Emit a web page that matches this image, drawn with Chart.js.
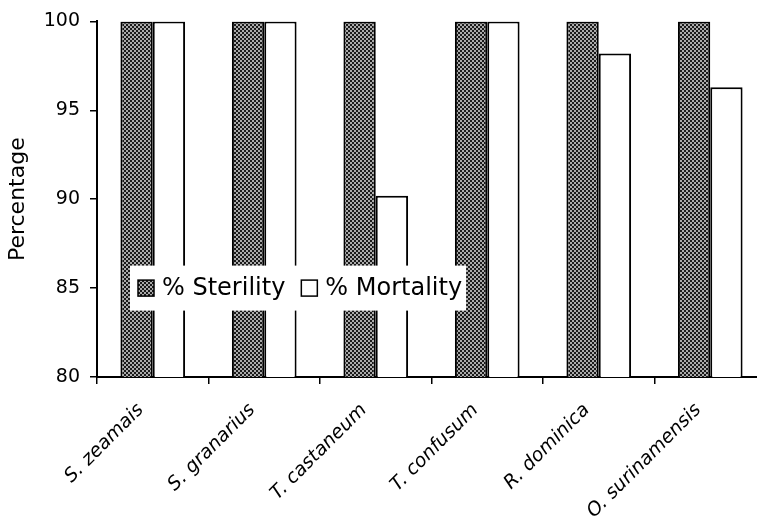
<!DOCTYPE html>
<html>
<head>
<meta charset="utf-8">
<script src="https://cdn.jsdelivr.net/npm/chart.js@4.4.0/dist/chart.umd.min.js"></script>
<style>
  html, body { margin: 0; padding: 0; background: #fff; overflow: hidden; }
  canvas { display: block; }
</style>
</head>
<body>
<canvas id="myChart" width="768" height="521"></canvas>
<script>
const labels = ["S. zeamais", "S. granarius", "T. castaneum", "T. confusum", "R. dominica", "O. surinamensis"];
const sterility = [100, 100, 100, 100, 100, 100];
const mortality = [100, 100, 90.2, 100, 98.2, 96.3];
const yTicks = [80, 85, 90, 95, 100];

const FONT = "'DejaVu Sans', sans-serif";

// checkered fill for the sterility bars
const makePattern = () => {
  const c = document.createElement("canvas");
  c.width = 4;
  c.height = 4;
  const g = c.getContext("2d");
  g.fillStyle = "#1a1a1a";
  g.fillRect(0, 0, 4, 4);
  g.fillStyle = "#aaaaaa";
  g.fillRect(0, 0, 2, 2);
  g.fillRect(2, 2, 2, 2);
  return g.createPattern(c, "repeat");
};
const hatch = makePattern();

// legend sits inside the plot on a white box
const insideLegend = {
  id: "insideLegend",
  afterDatasetsDraw(chart) {
    const { ctx, chartArea, scales } = chart;
    const yc = scales.y.getPixelForValue(85);
    const x0 = chartArea.left + 33;
    const h = 45;
    ctx.save();
    ctx.font = "24px " + FONT;
    const t1 = "% Sterility";
    const t2 = "% Mortality";
    const w1 = ctx.measureText(t1).width;
    const w2 = ctx.measureText(t2).width;
    const box = 16;
    const w = 8 + box + 8 + w1 + 16 + box + 8 + w2 + 4;
    ctx.fillStyle = "#fff";
    ctx.fillRect(x0, yc - h / 2, w, h);
    let x = x0 + 8;
    ctx.fillStyle = hatch;
    ctx.fillRect(x, yc - box / 2, box, box);
    ctx.strokeStyle = "#000";
    ctx.lineWidth = 1.5;
    ctx.strokeRect(x, yc - box / 2, box, box);
    x += box + 8;
    ctx.fillStyle = "#000";
    ctx.textBaseline = "middle";
    ctx.fillText(t1, x, yc + 1);
    x += w1 + 16;
    ctx.fillStyle = "#fff";
    ctx.fillRect(x, yc - box / 2, box, box);
    ctx.strokeRect(x, yc - box / 2, box, box);
    x += box + 8;
    ctx.fillStyle = "#000";
    ctx.fillText(t2, x, yc + 1);
    ctx.restore();
  },
};

const ctx = document.getElementById("myChart");
const myChart = new Chart(ctx, {
  type: "bar",
  data: {
    labels: labels,
    datasets: [
      {
        label: "% Sterility",
        data: sterility,
        backgroundColor: hatch,
        borderColor: "#000",
        borderWidth: 2,
        borderSkipped: "bottom",
        categoryPercentage: 0.58,
        barPercentage: 1,
      },
      {
        label: "% Mortality",
        data: mortality,
        backgroundColor: "#fff",
        borderColor: "#000",
        borderWidth: 2,
        borderSkipped: "bottom",
        categoryPercentage: 0.58,
        barPercentage: 1,
      },
    ],
  },
  options: {
    responsive: false,
    animation: false,
    devicePixelRatio: 1,
    layout: { padding: { top: 20, right: 2, bottom: 0, left: 0 } },
    plugins: {
      legend: { display: false },
      tooltip: { enabled: false },
    },
    scales: {
      x: {
        afterFit: (scale) => {
          scale.height = 144;
        },
        grid: {
          display: true,
          offset: true,
          drawOnChartArea: false,
          drawTicks: true,
          tickLength: 7,
          color: "#000",
          lineWidth: 1.5,
        },
        border: { display: true, color: "#000", width: 2 },
        ticks: {
          color: "#000",
          font: { family: FONT, size: 19, style: "italic" },
          maxRotation: 45,
          minRotation: 45,
          padding: 15,
          labelOffset: -12,
          autoSkip: false,
        },
      },
      y: {
        min: 80,
        max: 100,
        afterBuildTicks: (axis) => {
          axis.ticks = yTicks.map((v) => ({ value: v }));
        },
        afterFit: (scale) => {
          scale.width = 97;
        },
        grid: {
          display: true,
          drawOnChartArea: false,
          drawTicks: true,
          tickLength: 7,
          color: "#000",
          lineWidth: 1.5,
        },
        border: { display: true, color: "#000", width: 2 },
        ticks: {
          color: "#000",
          font: { family: FONT, size: 19 },
          padding: 10,
        },
        title: {
          display: true,
          text: "Percentage",
          color: "#000",
          font: { family: FONT, size: 22 },
          padding: { top: 5, bottom: 8 },
        },
      },
    },
  },
  plugins: [insideLegend],
});
</script>
</body>
</html>
